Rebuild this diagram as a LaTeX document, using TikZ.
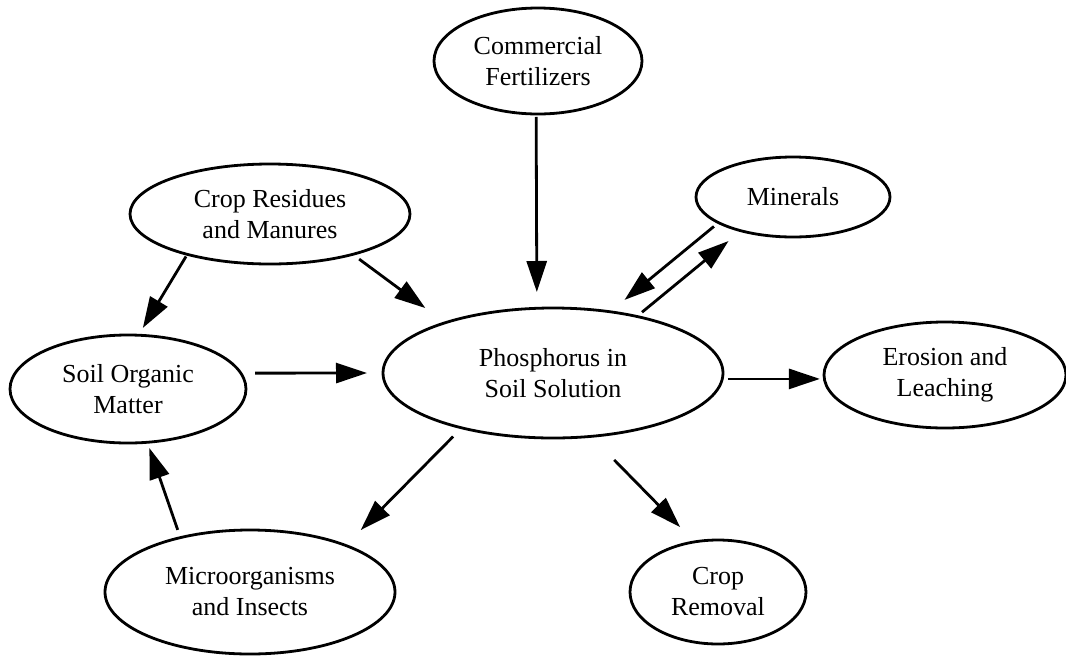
\documentclass[tikz,border=0pt]{standalone}
\usepackage{fontspec}
\setmainfont{Liberation Serif}
\usetikzlibrary{shapes.geometric,arrows.meta}
\begin{document}
\begin{tikzpicture}[x=1pt,y=-1pt,
  blob/.style={ellipse,draw,line width=2.8pt,inner sep=0pt,outer sep=0pt,align=center,
    font=\fontsize{26}{31}\selectfont},
  arr/.style={line width=2.8pt,-{Triangle[length=31pt,width=20pt]}}]
\useasboundingbox[fill=white] (0,0) rectangle (1066,657);
% nodes
\node[blob,minimum width=208pt,minimum height=106pt] (CF) at (538,61) {Commercial\\Fertilizers};
\node[blob,minimum width=280pt,minimum height=100pt] (CR) at (270,214) {Crop Residues\\and Manures};
\node[blob,minimum width=194pt,minimum height=80pt] (MIN) at (793,197) {Minerals};
\node[blob,minimum width=236pt,minimum height=108pt] (SOM) at (128,389) {Soil Organic\\Matter};
\node[blob,minimum width=340pt,minimum height=130pt] (P) at (553,373) {Phosphorus in\\Soil Solution};
\node[blob,minimum width=242pt,minimum height=106pt] (ER) at (945,375) {Erosion and\\Leaching};
\node[blob,minimum width=290pt,minimum height=124pt] (MI) at (250,592) {Microorganisms\\and Insects};
\node[blob,minimum width=176pt,minimum height=104pt] (CRM) at (718,592) {Crop\\Removal};
% connectors
\draw[arr,shorten <=2.5pt,shorten >=8.5pt] (CR.206.4) -- (SOM.79);
\draw[arr,shorten <=8pt,shorten >=24.7pt] (CR.334.4) -- (P.155.2);
\draw[arr,shorten <=3pt,shorten >=16.3pt] (CF.268) -- (P.104.7);
\draw[arr,shorten <=6pt,shorten >=18.7pt] (MIN.199.7) -- (P.47.4);
\draw[arr,shorten <=6.7pt,shorten >=16.1pt] (P.34.45) -- (MIN.213.35);
\draw[arr,shorten <=14.3pt,shorten >=16pt] (SOM.8.08) -- (P.180);
\draw[arr,shorten <=5.5pt,shorten >=4.2pt] (P.358.3) -- (P.358.3 -| ER.181.4);
\draw[arr,shorten <=12.3pt,shorten >=21.5pt] (P.211.8) -- (MI.26.4);
\draw[arr,shorten <=8.2pt,shorten >=6.1pt] (MI.142.4) -- (SOM.290.7);
\draw[arr,shorten <=33pt,shorten >=20.7pt] (P.301.6) -- (CRM.115.2);
\end{tikzpicture}
\end{document}
